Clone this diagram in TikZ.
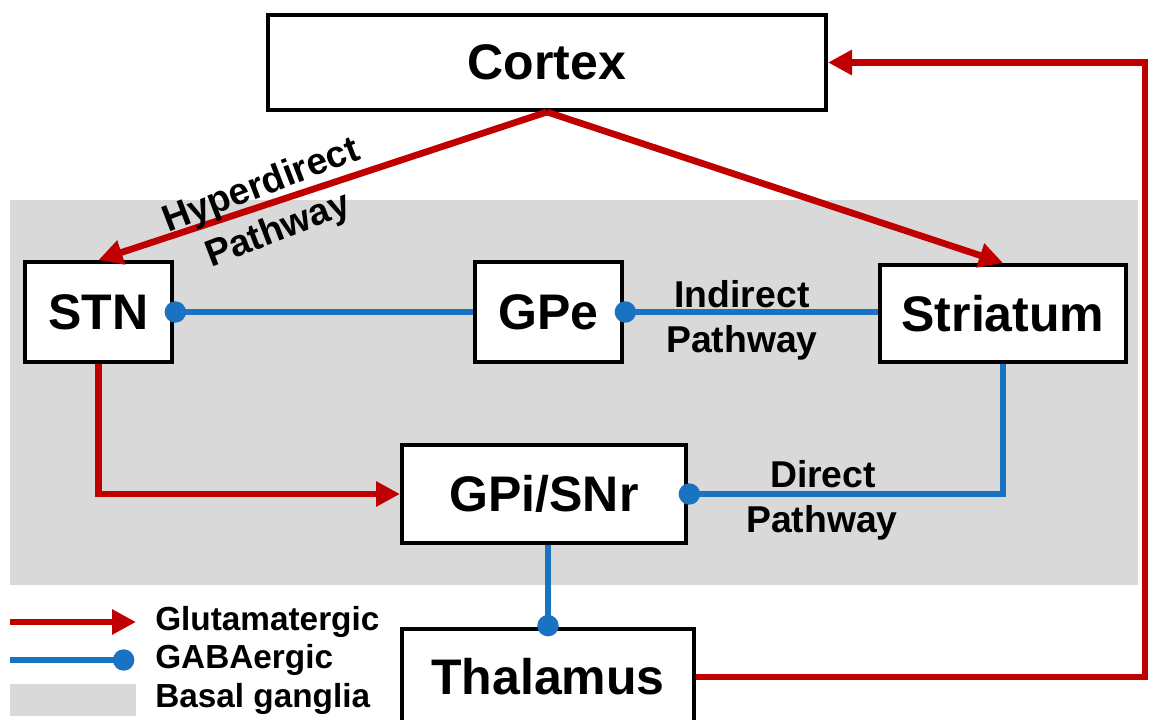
\documentclass[tikz,border=0pt]{standalone}
\usepackage{fontspec}
\setmainfont{Liberation Sans}
\usetikzlibrary{arrows.meta}
\definecolor{glured}{HTML}{C00000}
\definecolor{gababl}{HTML}{1A72C2}
\definecolor{bggray}{HTML}{D9D9D9}
\newcommand\bigtxt{\fontsize{37.5pt}{40pt}\selectfont\bfseries}
\newcommand\midtxt{\fontsize{28pt}{35.7pt}\selectfont\bfseries}
\newcommand\legtxt{\fontsize{25pt}{28pt}\selectfont\bfseries}
\tikzset{
  region/.style={draw=black, line width=3pt, fill=white, inner sep=0pt, font=\bigtxt},
  glu/.style={draw=glured, line width=5pt, -{Triangle[length=18pt,width=18pt]}},
  gaba/.style={draw=gababl, line width=4.5pt, -{Circle[length=16pt]}, shorten >=-7pt},
  plabel/.style={font=\midtxt, inner sep=0pt, anchor=base},
  legtext/.style={font=\legtxt, inner sep=0pt, anchor=west}
}
\begin{document}
\begin{tikzpicture}[x=0.75pt, y=-0.75pt]
\useasboundingbox (0,0) rectangle (1153,720);
\fill[white] (0,0) rectangle (1153,720);
% basal ganglia area
\fill[bggray] (10,200) rectangle (1138,585);

% boxes
\node[region, minimum width=418.5pt, minimum height=71.25pt] (cortex) at (547,62.5) {Cortex};
\node[region, minimum width=110.25pt, minimum height=75pt] (stn) at (98.5,312) {STN};
\node[region, minimum width=110.25pt, minimum height=75pt] (gpe) at (548.5,312) {GPe};
\node[region, minimum width=184.5pt, minimum height=72.75pt] (str) at (1003,313.5) {Striatum};
\node[region, minimum width=213pt, minimum height=73.5pt] (gpi) at (544,494) {GPi/SNr};
\node[region, minimum width=219pt, minimum height=72pt] (thal) at (548,677) {Thalamus};

% glutamatergic connections
\draw[glu] (cortex.south) -- (stn.north);
\draw[glu] (cortex.south) -- (str.north);
\draw[glu] (stn.south) |- (gpi.west);
\coordinate (rightrail) at (1145,0);
\draw[glu] (thal.east) -- (thal.east -| rightrail) |- (cortex.east);

% GABAergic connections
\draw[gaba] (gpe.west) -- (stn.east);
\draw[gaba] (str.west |- gpe.east) -- (gpe.east);
\draw[gaba] (str.south) |- (gpi.east);
\draw[gaba] (thal.north |- gpi.south) -- (thal.north);

% pathway labels
\node[font=\midtxt, inner sep=0pt, rotate=21, align=center] (hyp) at (270,209) {Hyperdirect\\Pathway};
\node[plabel] (ind1) at (742,307) {Indirect};
\node[plabel] (ind2) at (742,352) {Pathway};
\node[plabel] (dir1) at (823,487) {Direct};
\node[plabel] (dir2) at (822,532) {Pathway};

% legend
\coordinate (lg1a) at (10,622);
\coordinate (lg1b) at (136,622);
\coordinate (lg2a) at (10,660);
\coordinate (lg2b) at (125,660);
\draw[glu] (lg1a) -- (lg1b);
\draw[gaba] (lg2a) -- (lg2b);
\fill[bggray] (10,684) rectangle (136,716);
\node[legtext] (leg1) at (155,622) {Glutamatergic};
\node[legtext] (leg2) at (155,660) {GABAergic};
\node[legtext] (leg3) at (155,699) {Basal ganglia};
\end{tikzpicture}
\end{document}
